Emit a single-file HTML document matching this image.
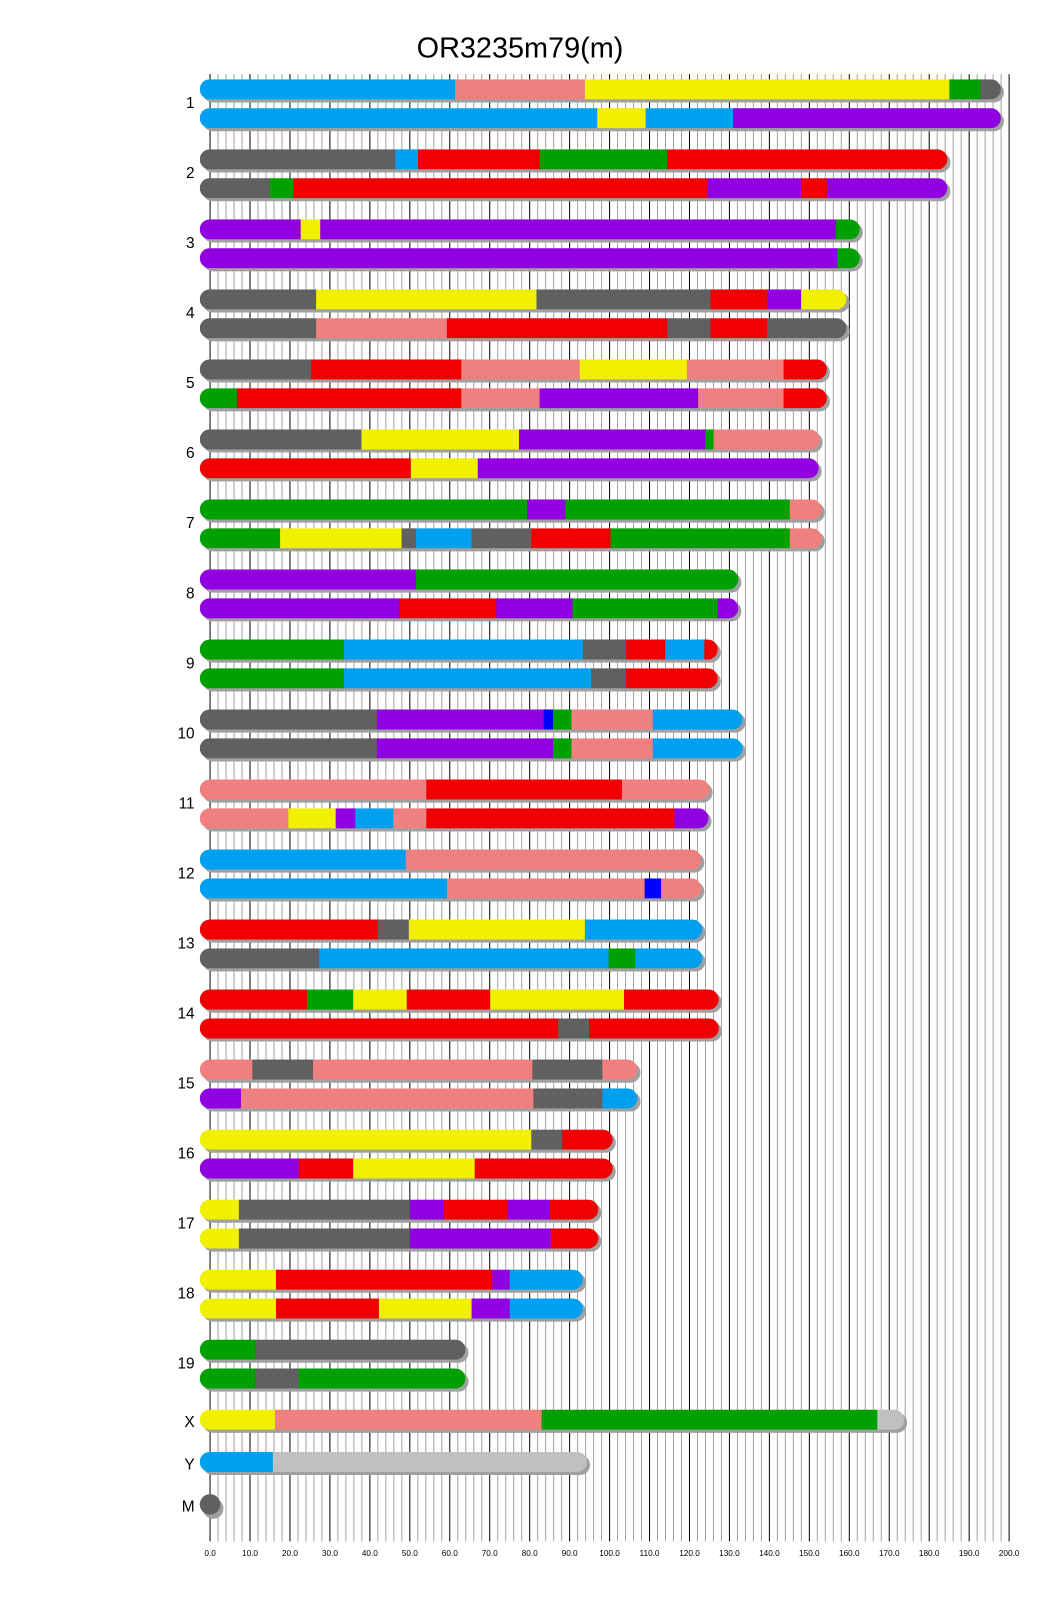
<!DOCTYPE html>
<html><head><meta charset="utf-8"><style>html,body{margin:0;padding:0;background:#fff}svg{display:block}</style></head>
<body>
<svg id="s" width="1040" height="1616" viewBox="0 0 1010 1569.4" xmlns="http://www.w3.org/2000/svg" font-family="Liberation Sans, Arial, sans-serif">
<rect width="1010" height="1570" fill="#fff"/>
<text x="505" y="56" font-size="28" text-anchor="middle">OR3235m79(m)</text>
<g id="grid"></g>
<g id="bars"></g>
<g id="labs"></g>
</svg>
<script>
var NS="http://www.w3.org/2000/svg";
function el(p,t,a,txt){var e=document.createElementNS(NS,t);for(var k in a)e.setAttribute(k,a[k]);if(txt!=null)e.textContent=txt;p.appendChild(e);return e;}
var g=document.getElementById('grid'),b=document.getElementById('bars'),l=document.getElementById('labs');
for(var k=0;k<=100;k++){var x=204+7.76*k;el(g,'line',{x1:x,x2:x,y1:72,y2:1497,stroke:k%5==0?'#000':'#a0a0a0','stroke-width':0.97});}
for(var j=0;j<=20;j++){el(g,'text',{x:204+38.8*j,y:1511,'font-size':8,'text-anchor':'middle'},(j*10).toFixed(1));}
var C={b:'#00a0f0',s:'#f08080',y:'#f0f000',g:'#00a000',k:'#606060',r:'#f00000',p:'#9000e0',d:'#0000ff',l:'#c0c0c0'};
var D=[
["b442 s568 y922 g952 k972","b580 y627 b712 p972"],
["k384 b406 r524 g648 r920","k262 g285 r687 p778 r803 p920"],
["p292 y311 p812 g835","p813 g835"],
["k307 y521 k690 r745 p778 y822","k307 s434 r648 k690 r745 k822"],
["k302 r448 s563 y667 s761 r803","g230 r448 s524 p678 s761 r803"],
["k351 y504 p685 g693 s796","r399 y464 p795"],
["g512 p549 g767 s798","g272 y390 k404 b458 k516 r593 g767 s798"],
["p404 g717","p388 r482 p556 g697 p717"],
["g334 b566 k608 r646 b684 r697","g334 b574 k608 r697"],
["k366 p528 d537 g555 s634 b721","k366 p537 g555 s634 b721"],
["s414 r604 s689","s280 y326 p345 b382 s414 r655 p688"],
["b394 s681","b434 s626 d642 s681"],
["r367 k397 y568 b682","k310 b591 g617 b682"],
["r298 g343 y395 r476 y606 r698","r542 k572 r698"],
["s245 k304 s517 k585 s619","p234 s518 k585 b619"],
["y516 k546 r595","p290 r343 y461 r595"],
["y232 k398 p431 r493 p534 r581","y232 k398 p535 r581"],
["y268 r478 p495 b566","y268 r368 y458 p495 b566"],
["g248 k452","g248 k290 g452"]
];
var H=19.5,cid=0;
function bar(y,spec){
  var segs=spec.split(' '),end=parseFloat(segs[segs.length-1].slice(1));
  el(b,'rect',{x:197,y:y+3,width:end-194,height:H,rx:H/2,fill:'#a0a0a0'});
  var id='c'+(cid++);var cp=el(b,'clipPath',{id:id});el(cp,'rect',{x:194,y:y,width:end-194,height:H,rx:H/2});
  var gg=el(b,'g',{'clip-path':'url(#'+id+')'});var x0=194;
  segs.forEach(function(s){var x1=parseFloat(s.slice(1));el(gg,'rect',{x:x0,y:y,width:x1-x0+0.5,height:H,fill:C[s[0]]});x0=x1;});
}
D.forEach(function(r,i){bar(77+68*i,r[0]);bar(105+68*i,r[1]);
  el(l,'text',{x:189,y:105+68*i,'font-size':15,'text-anchor':'end'},String(i+1));});
bar(1369,"y267 s526 g852 l878");
el(l,'text',{x:189,y:1386,'font-size':15,'text-anchor':'end'},'X');
bar(1410,"b265 l570");
el(l,'text',{x:189,y:1427,'font-size':15,'text-anchor':'end'},'Y');
el(b,'circle',{cx:207,cy:1465,r:10,fill:'#a0a0a0'});
el(b,'circle',{cx:204,cy:1461,r:10,fill:'#606060'});
el(l,'text',{x:189,y:1468,'font-size':15,'text-anchor':'end'},'M');
</script>
</body></html>
